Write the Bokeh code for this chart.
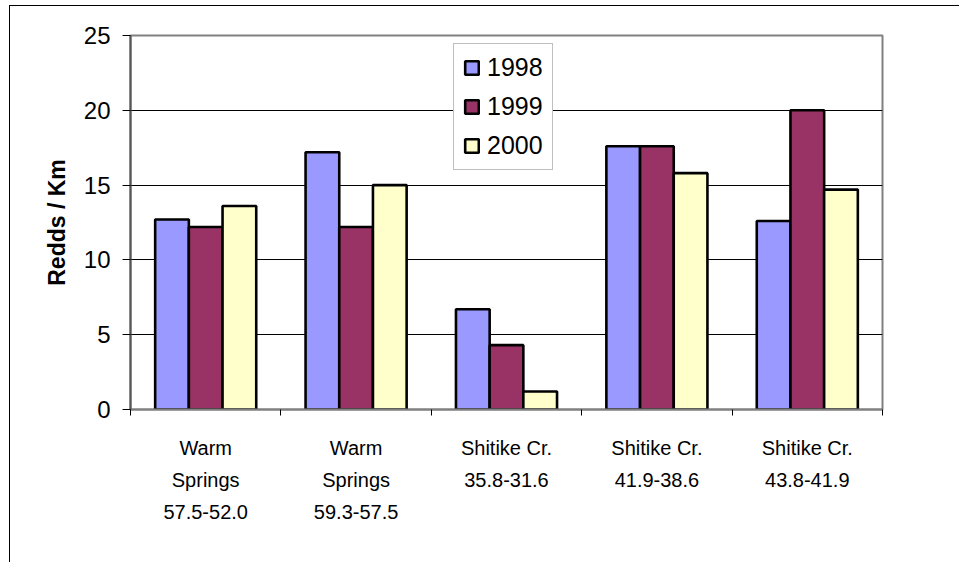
from bokeh.plotting import figure
from bokeh.models import ColumnDataSource, Range1d, FixedTicker, Legend, LegendItem
from bokeh.embed import file_html
from bokeh.resources import INLINE

categories = ["Warm\nSprings\n57.5-52.0", "Warm\nSprings\n59.3-57.5",
              "Shitike Cr.\n35.8-31.6", "Shitike Cr.\n41.9-38.6", "Shitike Cr.\n43.8-41.9"]
years = ["1998", "1999", "2000"]
v1998 = [12.7, 17.2, 6.7, 17.6, 12.6]
v1999 = [12.2, 12.2, 4.3, 17.6, 20.0]
v2000 = [13.6, 15.0, 1.2, 15.8, 14.7]
colors = ["#9999FF", "#993366", "#FFFFCC"]
y_ticks = [0, 5, 10, 15, 20, 25]

n = len(categories)
centers = [i + 0.5 for i in range(n)]
bounds = [i for i in range(n + 1)]
bar_w = 0.224
offsets = [-bar_w, 0.0, bar_w]

p = figure(width=950, height=557, output_backend="svg", toolbar_location=None,
           x_range=Range1d(0, n), y_range=Range1d(0, 25),
           min_border_left=120, min_border_right=78, min_border_top=29, min_border_bottom=154)
p.margin = (5, 0, 0, 9)
p.styles = {"border-left": "1px solid black", "border-top": "1px solid black"}
p.background_fill_color = "white"
p.border_fill_color = "white"
p.outline_line_color = "#808080"
p.outline_line_width = 2

series = [v1998, v1999, v2000]
items = []
for yr, vals, col, off in zip(years, series, colors, offsets):
    src = ColumnDataSource(dict(x=[c + off for c in centers], top=vals))
    r = p.vbar(x="x", top="top", width=bar_w, bottom=0, source=src,
               fill_color=col, line_color="black", line_width=2.6)
    items.append(LegendItem(label=yr, renderers=[r]))

# x axis
p.xaxis.ticker = FixedTicker(ticks=centers, minor_ticks=bounds)
p.xaxis.major_label_overrides = {c: lab for c, lab in zip(centers, categories)}
p.xaxis.major_tick_line_color = None
p.xaxis.major_tick_out = 6
p.xaxis.major_tick_in = 0
p.xaxis.minor_tick_line_color = "black"
p.xaxis.minor_tick_out = 6
p.xaxis.minor_tick_in = 0
p.xaxis.axis_line_color = "#808080"
p.xaxis.axis_line_width = 2
p.xaxis.major_label_text_font = "Liberation Sans"
p.xaxis.major_label_text_font_size = "20px"
p.xaxis.major_label_text_color = "black"
p.xaxis.major_label_text_line_height = 1.46
p.xaxis.major_label_standoff = 21

# y axis
p.yaxis.ticker = FixedTicker(ticks=y_ticks)
p.yaxis.minor_tick_line_color = None
p.yaxis.major_tick_out = 8
p.yaxis.major_tick_in = 0
p.yaxis.major_tick_line_color = "black"
p.yaxis.axis_line_color = "#555555"
p.yaxis.axis_line_width = 2
p.yaxis.major_label_text_font = "Liberation Sans"
p.yaxis.major_label_text_font_size = "24px"
p.yaxis.major_label_text_color = "black"
p.yaxis.major_label_standoff = 12
p.yaxis.axis_label = "Redds / Km"
p.yaxis.axis_label_text_font = "Liberation Sans"
p.yaxis.axis_label_text_font_style = "bold"
p.yaxis.axis_label_text_font_size = "23px"
p.yaxis.axis_label_text_color = "black"
p.yaxis.axis_label_standoff = 11

p.xgrid.grid_line_color = None
p.ygrid.ticker = FixedTicker(ticks=y_ticks)
p.ygrid.grid_line_color = "black"
p.ygrid.grid_line_width = 1

legend = Legend(items=items, location=(323, 239), orientation="vertical",
                border_line_color="#808080", border_line_width=1.5,
                background_fill_color="white", background_fill_alpha=1.0,
                label_text_font="Liberation Sans", label_text_font_size="25px",
                label_text_color="black",
                glyph_width=17, glyph_height=17, label_standoff=7,
                spacing=10, padding=9, margin=0)
p.add_layout(legend, "center")

open("out.html", "w").write(file_html(p, INLINE))
